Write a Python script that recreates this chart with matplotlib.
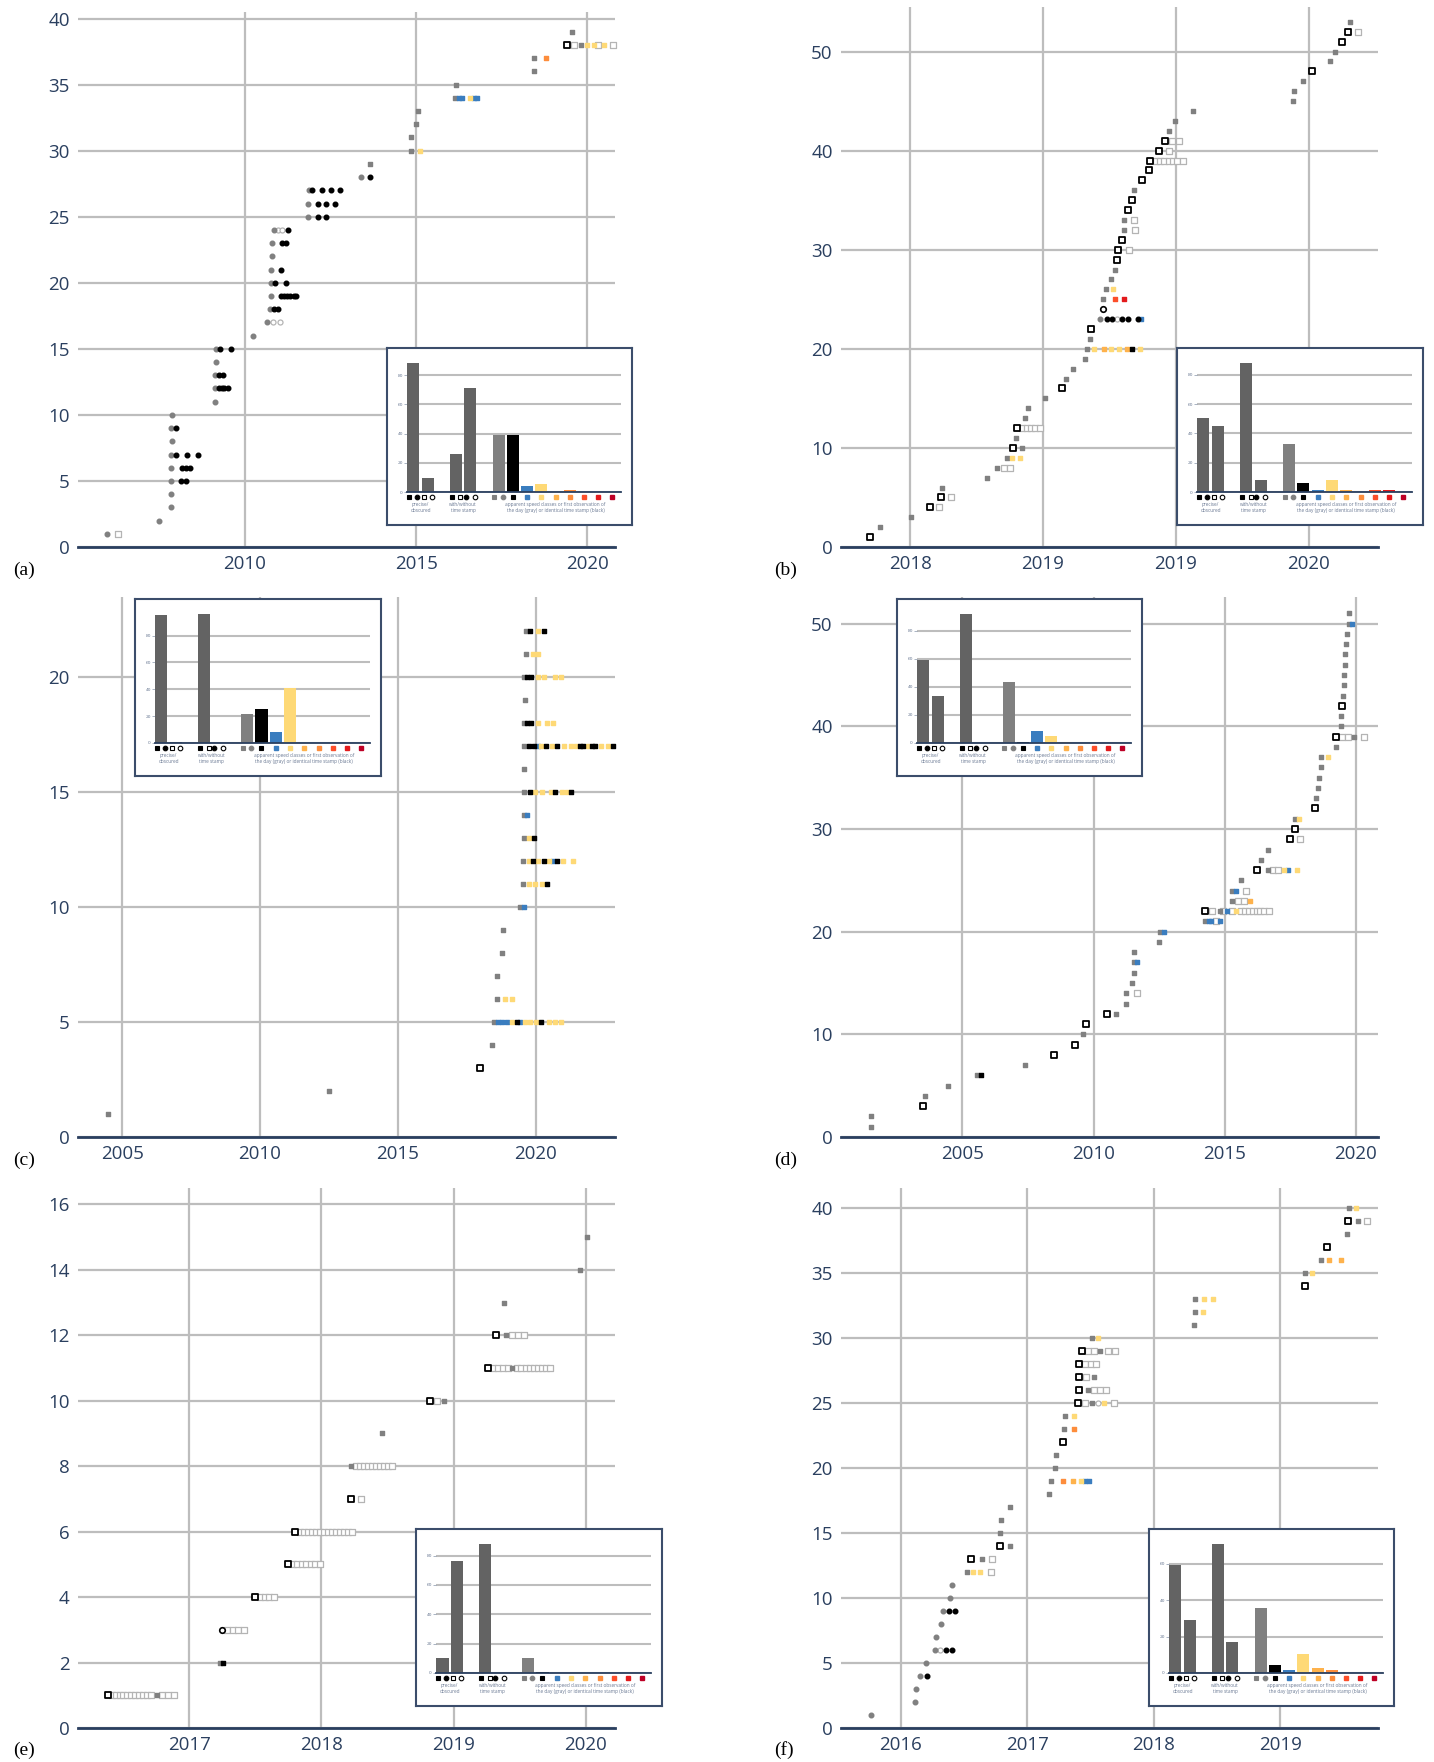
import matplotlib
matplotlib.use("Agg")
import matplotlib.pyplot as plt
import numpy as np

W, H = 1434, 1762

# marker kinds: g gray square, c gray circle, k black square, o black circle,
# B open square (black), w open square (light gray), O open circle (light gray),
# Q open circle (black), b blue, y yellow, a light orange, r orange, R red-orange, e red
A_POINTS = [
    (1, 2005.98, "c"), (1, 2006.29, "w"), (2, 2007.49, "c"), (3, 2007.85, "c"), (4, 2007.85, "c"),
    (5, 2007.85, "c"), (5, 2008.14, "o"), (5, 2008.27, "o"),
    (6, 2007.85, "c"), (6, 2008.17, "o"), (6, 2008.27, "o"), (6, 2008.39, "o"),
    (7, 2007.85, "c"), (7, 2007.98, "o"), (7, 2008.30, "o"), (7, 2008.62, "o"),
    (8, 2007.87, "c"), (9, 2007.85, "c"), (9, 2007.98, "o"), (10, 2007.87, "c"), (11, 2009.11, "c"),
    (12, 2009.13, "c"), (12, 2009.23, "o"), (12, 2009.32, "o"), (12, 2009.40, "o"), (12, 2009.49, "o"),
    (13, 2009.13, "c"), (13, 2009.23, "o"), (13, 2009.36, "o"), (14, 2009.14, "c"),
    (15, 2009.14, "c"), (15, 2009.26, "o"), (15, 2009.58, "o"), (16, 2010.23, "c"),
    (17, 2010.63, "c"), (17, 2010.82, "O"), (17, 2011.02, "O"),
    (18, 2010.74, "c"), (18, 2010.86, "o"), (18, 2010.96, "o"),
    (19, 2010.75, "c"), (19, 2011.04, "o"), (19, 2011.13, "o"), (19, 2011.23, "o"), (19, 2011.32, "o"),
    (19, 2011.42, "o"), (19, 2011.50, "o"),
    (20, 2010.75, "c"), (20, 2010.87, "o"), (20, 2011.21, "o"), (21, 2010.76, "c"), (21, 2011.05, "o"),
    (22, 2010.79, "c"), (23, 2010.80, "c"), (23, 2011.07, "o"), (23, 2011.19, "o"),
    (24, 2010.86, "c"), (24, 2010.96, "O"), (24, 2011.08, "O"), (24, 2011.25, "o"),
    (25, 2011.85, "c"), (25, 2012.12, "o"), (25, 2012.37, "o"),
    (26, 2011.85, "c"), (26, 2012.12, "o"), (26, 2012.37, "o"), (26, 2012.64, "o"),
    (27, 2011.87, "c"), (27, 2011.96, "o"), (27, 2012.24, "o"), (27, 2012.50, "o"), (27, 2012.77, "o"),
    (28, 2013.39, "c"), (28, 2013.64, "o"), (29, 2013.64, "g"),
    (30, 2014.85, "g"), (30, 2015.10, "y"), (31, 2014.85, "g"), (32, 2014.99, "g"), (33, 2015.04, "g"),
    (34, 2016.13, "g"), (34, 2016.25, "b"), (34, 2016.35, "b"), (34, 2016.56, "y"), (34, 2016.68, "b"),
    (34, 2016.79, "b"), (35, 2016.15, "g"), (36, 2018.45, "g"), (37, 2018.45, "g"), (37, 2018.79, "r"),
    (38, 2019.42, "B"), (38, 2019.62, "w"), (38, 2019.83, "g"), (38, 2020.00, "y"), (38, 2020.21, "y"),
    (38, 2020.32, "w"), (38, 2020.48, "y"), (38, 2020.75, "w"), (39, 2019.54, "g"),
]

B_POINTS = [
    (1, 2018.348, "B"), (2, 2018.387, "g"), (3, 2018.505, "g"), (4, 2018.574, "B"), (4, 2018.610, "w"),
    (5, 2018.615, "B"), (5, 2018.652, "w"), (6, 2018.620, "g"), (7, 2018.788, "g"),
    (8, 2018.827, "g"), (8, 2018.853, "w"), (8, 2018.877, "w"),
    (9, 2018.866, "g"), (9, 2018.885, "y"), (9, 2018.914, "y"),
    (10, 2018.887, "B"), (10, 2018.921, "g"), (11, 2018.900, "g"),
    (12, 2018.903, "B"), (12, 2018.922, "w"), (12, 2018.939, "w"), (12, 2018.955, "w"), (12, 2018.971, "w"),
    (12, 2018.987, "w"), (13, 2018.932, "g"), (14, 2018.945, "g"), (15, 2019.006, "g"), (16, 2019.070, "B"),
    (17, 2019.087, "g"), (18, 2019.113, "g"), (19, 2019.159, "g"),
    (20, 2019.165, "g"), (20, 2019.193, "y"), (20, 2019.230, "a"), (20, 2019.256, "y"), (20, 2019.286, "y"),
    (20, 2019.314, "a"), (20, 2019.335, "k"), (20, 2019.366, "y"),
    (21, 2019.176, "g"), (22, 2019.181, "B"),
    (23, 2019.215, "c"), (23, 2019.239, "o"), (23, 2019.261, "o"), (23, 2019.278, "O"), (23, 2019.296, "o"),
    (23, 2019.320, "o"), (23, 2019.356, "o"), (23, 2019.369, "b"),
    (24, 2019.225, "Q"), (25, 2019.227, "g"), (25, 2019.269, "R"), (25, 2019.306, "e"),
    (26, 2019.238, "g"), (26, 2019.264, "y"), (27, 2019.256, "g"), (28, 2019.269, "g"), (29, 2019.280, "B"),
    (30, 2019.283, "B"), (30, 2019.322, "w"), (31, 2019.296, "B"), (32, 2019.303, "g"), (32, 2019.345, "w"),
    (33, 2019.306, "g"), (33, 2019.343, "w"), (34, 2019.319, "B"), (35, 2019.335, "B"), (36, 2019.343, "g"),
    (37, 2019.371, "B"), (38, 2019.398, "B"),
    (39, 2019.403, "B"), (39, 2019.424, "w"), (39, 2019.440, "w"), (39, 2019.456, "w"), (39, 2019.473, "w"),
    (39, 2019.489, "w"), (39, 2019.505, "w"), (39, 2019.526, "w"),
    (40, 2019.435, "B"), (40, 2019.473, "w"), (41, 2019.458, "B"), (41, 2019.485, "w"), (41, 2019.513, "w"),
    (42, 2019.474, "g"), (43, 2019.497, "g"), (44, 2019.565, "g"), (45, 2019.939, "g"), (46, 2019.945, "g"),
    (47, 2019.979, "g"), (48, 2020.013, "B"), (49, 2020.081, "g"), (50, 2020.097, "g"), (51, 2020.123, "B"),
    (52, 2020.147, "B"), (52, 2020.184, "w"), (53, 2020.154, "g"),
]

C_POINTS = [
    (1, 2004.48, "g"), (2, 2012.51, "g"), (3, 2017.99, "B"), (4, 2018.40, "g"),
    (5, 2018.48, "g"), (5, 2018.63, "b"), (5, 2018.79, "b"), (5, 2018.95, "b"), (5, 2019.16, "y"),
    (5, 2019.32, "k"), (5, 2019.45, "b"), (5, 2019.62, "y"), (5, 2019.81, "y"), (5, 2020.03, "y"),
    (5, 2020.18, "k"), (5, 2020.50, "y"), (5, 2020.71, "y"), (5, 2020.92, "y"),
    (6, 2018.61, "g"), (6, 2018.88, "y"), (6, 2019.16, "y"), (7, 2018.61, "g"), (8, 2018.77, "g"),
    (9, 2018.80, "g"), (10, 2019.42, "g"), (10, 2019.57, "b"),
    (11, 2019.53, "g"), (11, 2019.75, "y"), (11, 2019.97, "y"), (11, 2020.25, "y"), (11, 2020.43, "k"),
    (12, 2019.53, "g"), (12, 2019.75, "y"), (12, 2019.90, "k"), (12, 2020.10, "y"), (12, 2020.32, "k"),
    (12, 2020.50, "y"), (12, 2020.62, "b"), (12, 2020.77, "k"), (12, 2020.99, "y"), (12, 2021.34, "y"),
    (13, 2019.57, "g"), (13, 2019.75, "y"), (13, 2019.93, "k"), (14, 2019.57, "g"), (14, 2019.68, "b"),
    (15, 2019.57, "g"), (15, 2019.79, "k"), (15, 2019.99, "y"), (15, 2020.25, "y"), (15, 2020.55, "y"),
    (15, 2020.69, "k"), (15, 2020.95, "y"), (15, 2021.15, "y"), (15, 2021.30, "k"), (16, 2019.57, "g"),
    (17, 2019.57, "g"), (17, 2019.75, "k"), (17, 2019.93, "k"), (17, 2020.07, "b"), (17, 2020.21, "y"),
    (17, 2020.37, "k"), (17, 2020.61, "y"), (17, 2020.77, "k"), (17, 2021.02, "y"), (17, 2021.27, "y"),
    (17, 2021.48, "y"), (17, 2021.61, "k"), (17, 2021.73, "k"), (17, 2021.91, "y"), (17, 2022.05, "k"),
    (17, 2022.17, "k"), (17, 2022.39, "y"), (17, 2022.61, "y"), (17, 2022.82, "k"),
    (18, 2019.57, "g"), (18, 2019.70, "k"), (18, 2019.82, "k"), (18, 2020.10, "y"), (18, 2020.40, "y"),
    (18, 2020.62, "y"), (19, 2019.60, "g"),
    (20, 2019.57, "g"), (20, 2019.70, "k"), (20, 2019.84, "k"), (20, 2020.10, "y"), (20, 2020.30, "y"),
    (20, 2020.69, "y"), (20, 2020.92, "y"),
    (21, 2019.65, "g"), (21, 2019.91, "y"), (21, 2020.10, "y"),
    (22, 2019.65, "g"), (22, 2019.81, "k"), (22, 2020.07, "y"), (22, 2020.30, "k"),
]

D_POINTS = [
    (1, 2001.50, "g"), (2, 2001.50, "g"), (3, 2003.49, "B"), (4, 2003.59, "g"), (5, 2004.46, "g"),
    (6, 2005.57, "g"), (6, 2005.70, "k"), (7, 2007.39, "g"), (8, 2008.49, "B"), (9, 2009.29, "B"),
    (10, 2009.60, "g"), (11, 2009.70, "B"), (12, 2010.50, "B"), (12, 2010.86, "g"), (13, 2011.24, "g"),
    (14, 2011.24, "g"), (14, 2011.65, "w"), (15, 2011.47, "g"), (16, 2011.55, "g"), (17, 2011.53, "g"),
    (17, 2011.66, "b"), (18, 2011.55, "g"), (19, 2012.50, "g"), (20, 2012.55, "g"), (20, 2012.68, "b"),
    (21, 2014.27, "g"), (21, 2014.40, "b"), (21, 2014.50, "b"), (21, 2014.68, "w"), (21, 2014.82, "b"),
    (22, 2014.27, "B"), (22, 2014.53, "w"), (22, 2014.81, "g"), (22, 2014.94, "w"), (22, 2015.10, "b"),
    (22, 2015.28, "w"), (22, 2015.45, "y"), (22, 2015.63, "w"), (22, 2015.77, "w"), (22, 2015.92, "w"),
    (22, 2016.07, "w"), (22, 2016.22, "w"), (22, 2016.36, "w"), (22, 2016.51, "w"), (22, 2016.71, "w"),
    (23, 2015.28, "g"), (23, 2015.51, "w"), (23, 2015.74, "w"), (23, 2015.97, "a"),
    (24, 2015.28, "g"), (24, 2015.43, "b"), (24, 2015.82, "w"), (25, 2015.63, "g"),
    (26, 2016.25, "B"), (26, 2016.64, "g"), (26, 2016.84, "w"), (26, 2017.05, "w"), (26, 2017.25, "y"),
    (26, 2017.41, "b"), (26, 2017.76, "y"), (27, 2016.38, "g"), (28, 2016.64, "g"),
    (29, 2017.48, "B"), (29, 2017.87, "w"), (30, 2017.67, "B"), (31, 2017.67, "g"), (31, 2017.84, "y"),
    (32, 2018.43, "B"), (33, 2018.48, "g"), (34, 2018.56, "g"), (35, 2018.59, "g"), (36, 2018.67, "g"),
    (37, 2018.67, "g"), (37, 2018.93, "y"), (38, 2019.25, "g"),
    (39, 2019.26, "B"), (39, 2019.49, "w"), (39, 2019.70, "w"), (39, 2019.93, "g"), (39, 2020.31, "w"),
    (40, 2019.43, "g"), (41, 2019.44, "g"), (42, 2019.48, "B"), (43, 2019.51, "g"), (44, 2019.54, "g"),
    (45, 2019.57, "g"), (46, 2019.59, "g"), (47, 2019.61, "g"), (48, 2019.62, "g"), (49, 2019.65, "g"),
    (50, 2019.74, "g"), (50, 2019.87, "b"), (51, 2019.74, "g"),
]

E_POINTS = [
    (1, 2016.384, "B"), (1, 2016.415, "w"), (1, 2016.444, "w"), (1, 2016.474, "w"), (1, 2016.503, "w"),
    (1, 2016.533, "w"), (1, 2016.563, "w"), (1, 2016.592, "w"), (1, 2016.622, "w"), (1, 2016.651, "w"),
    (1, 2016.681, "w"), (1, 2016.710, "w"), (1, 2016.754, "g"), (1, 2016.797, "w"), (1, 2016.840, "w"),
    (1, 2016.883, "w"),
    (2, 2017.231, "g"), (2, 2017.256, "k"),
    (3, 2017.246, "Q"), (3, 2017.290, "w"), (3, 2017.330, "w"), (3, 2017.373, "w"), (3, 2017.416, "w"),
    (4, 2017.499, "B"), (4, 2017.539, "w"), (4, 2017.573, "w"), (4, 2017.607, "w"), (4, 2017.641, "w"),
    (5, 2017.745, "B"), (5, 2017.785, "w"), (5, 2017.819, "w"), (5, 2017.853, "w"), (5, 2017.887, "w"),
    (5, 2017.921, "w"), (5, 2017.955, "w"), (5, 2017.992, "w"),
    (6, 2017.801, "B"), (6, 2017.841, "w"), (6, 2017.871, "w"), (6, 2017.901, "w"), (6, 2017.931, "w"),
    (6, 2017.961, "w"), (6, 2017.991, "w"), (6, 2018.021, "w"), (6, 2018.051, "w"), (6, 2018.081, "w"),
    (6, 2018.111, "w"), (6, 2018.141, "w"), (6, 2018.171, "w"), (6, 2018.200, "w"), (6, 2018.229, "w"),
    (7, 2018.223, "B"), (7, 2018.303, "w"),
    (8, 2018.226, "g"), (8, 2018.263, "w"), (8, 2018.293, "w"), (8, 2018.323, "w"), (8, 2018.353, "w"),
    (8, 2018.383, "w"), (8, 2018.413, "w"), (8, 2018.443, "w"), (8, 2018.473, "w"), (8, 2018.503, "w"),
    (8, 2018.531, "w"), (9, 2018.460, "g"),
    (10, 2018.823, "B"), (10, 2018.876, "w"), (10, 2018.928, "g"),
    (11, 2019.261, "B"), (11, 2019.297, "w"), (11, 2019.334, "w"), (11, 2019.371, "w"), (11, 2019.408, "w"),
    (11, 2019.445, "g"), (11, 2019.482, "w"), (11, 2019.513, "w"), (11, 2019.544, "w"), (11, 2019.575, "w"),
    (11, 2019.606, "w"), (11, 2019.636, "w"), (11, 2019.667, "w"), (11, 2019.698, "w"), (11, 2019.729, "w"),
    (12, 2019.319, "B"), (12, 2019.396, "g"), (12, 2019.442, "w"), (12, 2019.488, "w"), (12, 2019.532, "w"),
    (13, 2019.381, "g"), (14, 2019.954, "g"), (15, 2020.006, "g"),
]

F_POINTS = [
    (1, 2015.763, "c"), (2, 2016.112, "c"), (3, 2016.125, "c"), (4, 2016.156, "c"), (4, 2016.207, "o"),
    (5, 2016.203, "c"), (6, 2016.271, "c"), (6, 2016.315, "O"), (6, 2016.356, "o"), (6, 2016.410, "o"),
    (7, 2016.278, "c"), (8, 2016.322, "c"), (9, 2016.332, "c"), (9, 2016.383, "o"), (9, 2016.430, "o"),
    (10, 2016.389, "c"), (11, 2016.406, "c"),
    (12, 2016.525, "g"), (12, 2016.576, "y"), (12, 2016.630, "y"), (12, 2016.718, "w"),
    (13, 2016.559, "B"), (13, 2016.647, "g"), (13, 2016.725, "w"), (14, 2016.782, "B"), (14, 2016.864, "g"),
    (15, 2016.782, "g"), (16, 2016.796, "g"), (17, 2016.864, "g"), (18, 2017.175, "g"),
    (19, 2017.192, "g"), (19, 2017.280, "r"), (19, 2017.365, "a"), (19, 2017.426, "y"), (19, 2017.456, "b"),
    (19, 2017.487, "b"), (20, 2017.222, "g"), (21, 2017.229, "g"), (22, 2017.283, "B"),
    (23, 2017.287, "g"), (23, 2017.371, "r"), (24, 2017.297, "g"), (24, 2017.371, "y"),
    (25, 2017.402, "B"), (25, 2017.460, "w"), (25, 2017.514, "g"), (25, 2017.561, "O"), (25, 2017.609, "y"),
    (25, 2017.686, "w"),
    (26, 2017.409, "B"), (26, 2017.483, "g"), (26, 2017.531, "w"), (26, 2017.575, "w"), (26, 2017.619, "w"),
    (27, 2017.409, "B"), (27, 2017.463, "w"), (27, 2017.524, "g"),
    (28, 2017.409, "B"), (28, 2017.456, "w"), (28, 2017.500, "w"), (28, 2017.544, "w"),
    (29, 2017.436, "B"), (29, 2017.483, "w"), (29, 2017.527, "w"), (29, 2017.578, "g"), (29, 2017.636, "w"),
    (29, 2017.697, "w"), (30, 2017.514, "g"), (30, 2017.561, "y"),
    (31, 2018.316, "g"), (32, 2018.326, "g"), (32, 2018.387, "y"),
    (33, 2018.326, "g"), (33, 2018.398, "y"), (33, 2018.469, "y"),
    (34, 2019.190, "B"), (35, 2019.193, "g"), (35, 2019.248, "y"),
    (36, 2019.319, "g"), (36, 2019.386, "a"), (36, 2019.475, "a"), (37, 2019.366, "B"), (38, 2019.525, "g"),
    (39, 2019.532, "B"), (39, 2019.610, "g"), (39, 2019.684, "w"), (40, 2019.542, "g"), (40, 2019.593, "y"),
]

# inset bar heights: precise, obscured, with, without, first obs (gray), identical (black),
# then speed classes blue .. dark red
A_BARS = [88, 9.5, 26, 71, 39, 39, 4, 5.3, 0, 1.1, 0, 0, 0]
B_BARS = [50.7, 45.2, 87.8, 8.0, 32.8, 6.0, 1.1, 8.0, 1.1, 0.2, 1.1, 1.1, 0]
C_BARS = [95, 1, 95.7, 0, 21.3, 25.3, 8.5, 40.8, 0, 0, 0, 0, 0]
D_BARS = [59.3, 33.2, 91.5, 0, 43.2, 0.7, 8.6, 5.0, 0.7, 0, 0, 0, 0]
E_BARS = [10.5, 76.6, 87.6, 0, 9.9, 0.9, 0, 0, 0, 0, 0, 0, 0]
F_BARS = [59.3, 29.1, 70.7, 16.9, 35.7, 4.6, 1.9, 10.7, 3.0, 1.9, 0, 0, 0]

BAR_SLOTS = [0, 1, 3, 4, 6, 7, 8, 9, 10, 11, 12, 13, 14]
SPEED_COLORS = ["#3a7dbf", "#fed976", "#feb24c", "#fd8d3c", "#fc4e2a", "#e31a1c", "#bd0026"]
BAR_COLORS = ["#636363"] * 4 + ["#808080", "#000000"] + SPEED_COLORS
GROUP_LABELS = [
    (0.5, "precise/\nobscured"),
    (3.5, "with/without\ntime stamp"),
    (10.0, "apparent speed classes or first observation of\nthe day (gray) or identical time stamp (black)"),
]

NAVY = "#2a3f5f"
GRID = "#bdbdbd"
GRAY = "#808080"
LIGHT = "#b4b4b4"

STYLE = {
    "g": dict(marker="s", c=GRAY, s=11),
    "c": dict(marker="o", c=GRAY, s=11),
    "k": dict(marker="s", c="black", s=11),
    "o": dict(marker="o", c="black", s=11),
    "B": dict(marker="s", facecolors="white", edgecolors="black", linewidths=1.3, s=17),
    "w": dict(marker="s", facecolors="white", edgecolors=LIGHT, linewidths=0.9, s=13),
    "O": dict(marker="o", facecolors="white", edgecolors=LIGHT, linewidths=0.9, s=13),
    "Q": dict(marker="o", facecolors="white", edgecolors="black", linewidths=1.2, s=16),
    "b": dict(marker="s", c=SPEED_COLORS[0], s=11),
    "y": dict(marker="s", c=SPEED_COLORS[1], s=11),
    "a": dict(marker="s", c=SPEED_COLORS[2], s=11),
    "r": dict(marker="s", c=SPEED_COLORS[3], s=11),
    "R": dict(marker="s", c=SPEED_COLORS[4], s=11),
    "e": dict(marker="s", c=SPEED_COLORS[5], s=11),
}

FONT = ["Open Sans", "DejaVu Sans"]


def px_axes(fig, left, top, right, bottom, **kw):
    return fig.add_axes([left / W, 1 - bottom / H, (right - left) / W, (bottom - top) / H], **kw)


def draw_main(fig, box, xlim, ylim, xticks, xlabels, yticks, points):
    ax = px_axes(fig, *box)
    for s in ["top", "right", "left"]:
        ax.spines[s].set_visible(False)
    ax.spines["bottom"].set_color(NAVY)
    ax.spines["bottom"].set_linewidth(2)
    ax.spines["bottom"].set_zorder(3)
    ax.set_xlim(*xlim)
    ax.set_ylim(*ylim)
    ax.set_xticks(xticks)
    ax.set_xticklabels(xlabels)
    ax.set_yticks(yticks)
    ax.tick_params(length=0, labelsize=13.5, labelcolor=NAVY, pad=6)
    for lab in ax.get_xticklabels() + ax.get_yticklabels():
        lab.set_family(FONT)
    ax.grid(True, color=GRID, linewidth=1.6, zorder=0)
    ax.set_axisbelow(True)

    ys = np.array([p[0] for p in points], dtype=float)
    xs = np.array([p[1] for p in points])
    ks = np.array([p[2] for p in points])
    for kind in ["w", "O", "g", "c", "b", "y", "a", "r", "R", "e", "k", "o", "B", "Q"]:
        m = ks == kind
        if m.any():
            ax.scatter(xs[m], ys[m], zorder=2, clip_on=False, **STYLE[kind])
    return ax


def draw_inset(fig, box, bars):
    left, top, right, bottom = box
    frame = px_axes(fig, left, top, right, bottom, zorder=5)
    frame.set_xticks([])
    frame.set_yticks([])
    frame.set_facecolor("white")
    for s in frame.spines.values():
        s.set_color("#3b4d6b")
        s.set_linewidth(1.5)

    ax = px_axes(fig, left + 20, top + 9, right - 11, bottom - 33, zorder=6)
    ax.patch.set_alpha(0)
    for s in ["top", "right", "left"]:
        ax.spines[s].set_visible(False)
    ax.spines["bottom"].set_color(NAVY)
    ax.spines["bottom"].set_linewidth(1.3)
    ax.bar(BAR_SLOTS, bars, width=0.85, color=BAR_COLORS, zorder=2)
    ax.set_xlim(-0.45, 14.6)
    top_val = max(bars) * 1.05
    ax.set_ylim(0, top_val)
    ax.set_yticks([t for t in [0, 20, 40, 60, 80] if t < top_val])
    ax.set_xticks([])
    ax.tick_params(axis="y", length=2, width=0.5, color="#8795ab", labelsize=3.2,
                   labelcolor="#6b7a94", pad=1)
    ax.yaxis.grid(True, color=GRID, linewidth=1.5, zorder=0)
    ax.set_axisbelow(True)

    # marker legend row under the bars
    tr = ax.get_xaxis_transform()
    my = -4.5 / 135
    row = [
        (-0.3, "s", "black", "black"), (0.25, "o", "black", "black"),
        (0.72, "s", "white", "black"), (1.3, "o", "white", "black"),
        (2.7, "s", "black", "black"), (3.3, "s", "white", "black"),
        (3.7, "o", "black", "black"), (4.3, "o", "white", "black"),
        (5.7, "s", GRAY, GRAY), (6.3, "o", GRAY, GRAY),
        (7, "s", "black", "black"),
    ]
    for x, mk, fc, ec in row:
        ax.plot(x, my, marker=mk, ms=3.3, mfc=fc, mec=ec, mew=0.8, transform=tr,
                clip_on=False, linestyle="none")
    for i, col in enumerate(SPEED_COLORS):
        ax.plot(8 + i, my, marker="s", ms=3.3, color=col, transform=tr, clip_on=False)
    for x, txt in GROUP_LABELS:
        ax.text(x, -10 / 135, txt, transform=tr, ha="center", va="top", fontsize=3.4,
                color="#6b7a94", family=FONT, linespacing=1.2)
    return ax


fig = plt.figure(figsize=(W / 100, H / 100), dpi=100)
fig.patch.set_facecolor("white")

panels = [
    ((78, 12, 615, 547), (2005.12, 2020.81), (0, 40.5), [2010, 2015, 2020], ["2010", "2015", "2020"],
     np.arange(0, 41, 5), A_POINTS, (387, 348, 632, 525), A_BARS, "(a)", (13, 570)),
    ((841, 7, 1378, 547), (2018.24, 2020.26), (0, 54.5), [2018.5, 2019.0, 2019.5, 2020.0],
     ["2018", "2019", "2019", "2020"], np.arange(0, 51, 10), B_POINTS, (1177, 348, 1423, 525), B_BARS,
     "(b)", (774, 570)),
    ((78, 597, 615, 1137), (2003.40, 2022.88), (0, 23.5), [2005, 2010, 2015, 2020],
     ["2005", "2010", "2015", "2020"], np.arange(0, 21, 5), C_POINTS, (135, 599, 381, 776), C_BARS,
     "(c)", (13, 1160)),
    ((841, 597, 1378, 1137), (2000.37, 2020.85), (0, 52.6), [2005, 2010, 2015, 2020],
     ["2005", "2010", "2015", "2020"], np.arange(0, 51, 10), D_POINTS, (897, 599, 1142, 776), D_BARS,
     "(d)", (774, 1160)),
    ((78, 1188, 615, 1728), (2016.16, 2020.22), (0, 16.5), [2017, 2018, 2019, 2020],
     ["2017", "2018", "2019", "2020"], np.arange(0, 17, 2), E_POINTS, (416, 1529, 662, 1706), E_BARS,
     "(e)", (13, 1750)),
    ((841, 1188, 1378, 1728), (2015.53, 2019.77), (0, 41.5), [2016, 2017, 2018, 2019],
     ["2016", "2017", "2018", "2019"], np.arange(0, 41, 5), F_POINTS, (1149, 1529, 1394, 1706), F_BARS,
     "(f)", (774, 1750)),
]

for box, xlim, ylim, xt, xl, yt, pts, ibox, bars, letter, lxy in panels:
    draw_main(fig, box, xlim, ylim, xt, xl, yt, pts)
    draw_inset(fig, ibox, bars)
    fig.text(lxy[0] / W, 1 - lxy[1] / H, letter, ha="left", va="center", fontsize=14,
             family=["Liberation Serif", "DejaVu Serif"])

fig.savefig("out.png", dpi=100, facecolor="white")
